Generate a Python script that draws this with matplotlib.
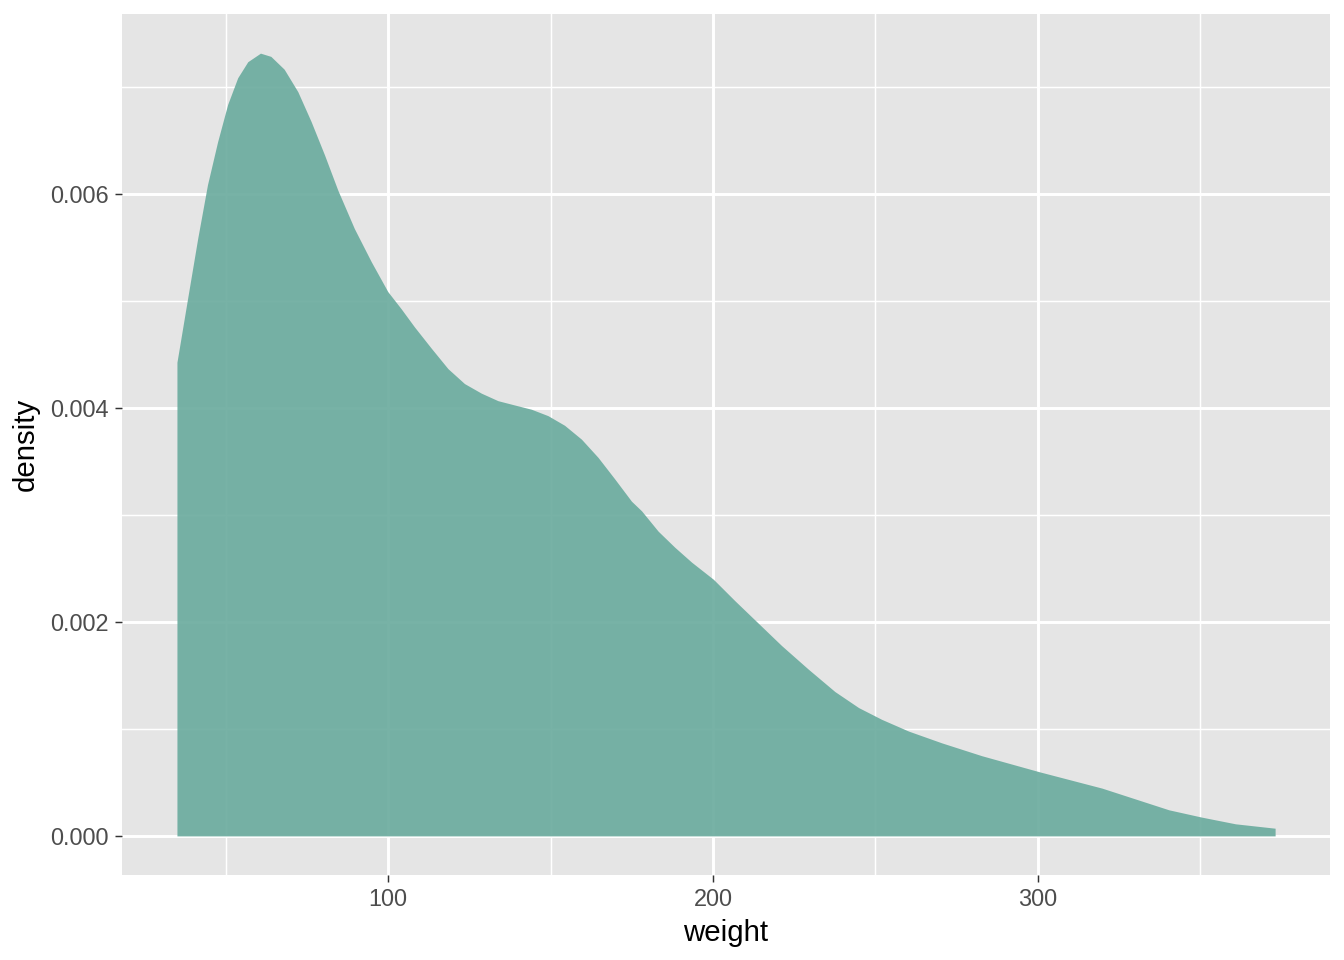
import numpy as np
import matplotlib
matplotlib.use("Agg")
import matplotlib.pyplot as plt
from matplotlib.ticker import MultipleLocator, FormatStrFormatter

plt.rcParams['font.family'] = ['Liberation Sans', 'DejaVu Sans']

# density curve (weight vs density, in 1e-3 units)
weight = [35.0, 38.3, 41.4, 44.4, 47.5, 50.6, 53.7, 56.8, 60.7, 63.9, 68.0,
          72.2, 76.3, 80.4, 84.5, 89.6, 94.8, 99.9, 104.0, 108.1, 113.3,
          118.4, 123.5, 128.7, 133.8, 138.9, 144.1, 149.2, 154.3, 159.5,
          164.6, 169.7, 174.9, 178.0, 183.1, 188.2, 193.4, 200.1, 206.7,
          213.9, 221.1, 229.3, 237.5, 244.8, 251.9, 260.2, 270.4, 282.7,
          300.4, 319.7, 340.3, 350.5, 360.8, 373.0]
density_e3 = [4.43, 5.03, 5.59, 6.09, 6.49, 6.84, 7.09, 7.24, 7.32, 7.29, 7.17,
              6.96, 6.68, 6.37, 6.04, 5.68, 5.37, 5.09, 4.93, 4.76, 4.56,
              4.37, 4.23, 4.14, 4.07, 4.03, 3.99, 3.93, 3.84, 3.71,
              3.54, 3.34, 3.13, 3.04, 2.85, 2.70, 2.56, 2.40, 2.20,
              1.99, 1.78, 1.56, 1.35, 1.20, 1.09, 0.98, 0.87, 0.75,
              0.60, 0.447, 0.244, 0.175, 0.113, 0.072]
density = [d / 1000 for d in density_e3]

fig = plt.figure(figsize=(7, 5), dpi=192)
ax = fig.add_axes([0.0908, 0.0885, 0.8988, 0.8969])
ax.set_facecolor('#E5E5E5')

ax.fill_between(weight, 0, density, color='#6CAC9F', alpha=0.92, linewidth=0, zorder=3)

xmin, xmax = 35, 373
ymax = max(density)
ax.set_xlim(xmin - 0.05 * (xmax - xmin), xmax + 0.05 * (xmax - xmin))
ax.set_ylim(-0.05 * ymax, 1.05 * ymax)

ax.xaxis.set_major_locator(MultipleLocator(100))
ax.xaxis.set_minor_locator(MultipleLocator(50))
ax.yaxis.set_major_locator(MultipleLocator(0.002))
ax.yaxis.set_minor_locator(MultipleLocator(0.001))
ax.yaxis.set_major_formatter(FormatStrFormatter('%.3f'))

ax.grid(which='major', color='white', linewidth=1.1, zorder=0)
ax.grid(which='minor', color='white', linewidth=0.55, zorder=0)
ax.set_axisbelow(True)

for s in ax.spines.values():
    s.set_visible(False)

ax.tick_params(which='major', length=2.75, width=0.55, color='#333333',
               labelcolor='#4D4D4D', labelsize=8.8, pad=2.2)
ax.tick_params(which='minor', length=0)

ax.set_xlabel('weight', fontsize=11, color='black', labelpad=3)
ax.set_ylabel('density', fontsize=11, color='black', labelpad=4)

fig.savefig('out.png', dpi=192, facecolor='white')
